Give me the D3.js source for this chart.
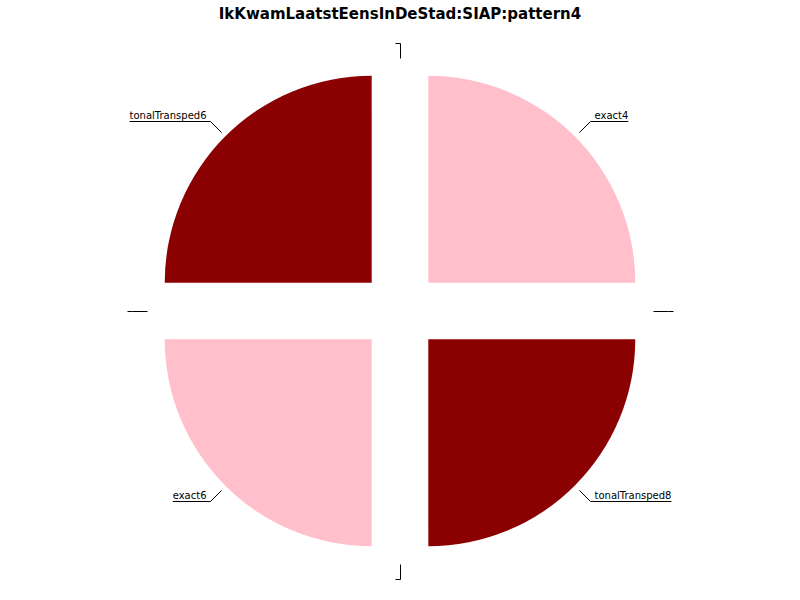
<!DOCTYPE html>
<html>
<head>
<meta charset="utf-8">
<script src="https://cdn.jsdelivr.net/npm/d3@7"></script>
<style>
  body { margin: 0; background: #fff; }
</style>
</head>
<body>
<script>
// slices in clockwise order from 12 o'clock; the empty ones are zero-size wedges
var labels = ["", "exact4", "", "tonalTransped8", "", "exact6", "", "tonalTransped6"];
var values = [0, 4, 0, 4, 0, 4, 0, 4];
var colors = ["#ffc0cb", "#ffc0cb", "#8b0000", "#8b0000", "#ffc0cb", "#ffc0cb", "#8b0000", "#8b0000"];
var title = "IkKwamLaatstEensInDeStad:SIAP:pattern4";

var width = 800, height = 600;
var cx = 400, cy = 311, radius = 207, explode = 40;

var svg = d3.select("body")
    .append("svg")
    .attr("width", width)
    .attr("height", height);

svg.append("text")
    .attr("x", width / 2)
    .attr("y", 19)
    .attr("text-anchor", "middle")
    .style("font-family", "DejaVu Sans, sans-serif")
    .style("font-size", "15px")
    .style("font-weight", "bold")
    .text(title);

var data = labels.map(function (l, i) { return {label: l, value: values[i], color: colors[i]}; });

var pie = d3.pie()
    .sort(null)
    .value(function (d) { return d.value; });

var arc = d3.arc()
    .innerRadius(0)
    .outerRadius(radius);

var arcs = pie(data);

function mid(d) { return (d.startAngle + d.endAngle) / 2; }
function polar(a, r) { return [Math.sin(a) * r, -Math.cos(a) * r]; }

var g = svg.append("g")
    .attr("transform", "translate(" + cx + "," + cy + ")");

g.selectAll("path.slice")
    .data(arcs.filter(function (d) { return d.data.value > 0; }))
    .enter()
        .append("path")
        .attr("class", "slice")
        .attr("d", arc)
        .attr("fill", function (d) { return d.data.color; })
        .attr("transform", function (d) {
            var p = polar(mid(d), explode);
            return "translate(" + p[0] + "," + p[1] + ")";
        });

// leader lines with labels (half pixel shift keeps the 1px lines sharp)
var r1 = radius + explode + 6, r2 = r1 + 15;
var lab = g.append("g")
    .attr("transform", "translate(0.5,0.5)")
    .selectAll("g")
    .data(arcs)
    .enter()
        .append("g");

lab.each(function (d) {
    var sel = d3.select(this);
    var a = mid(d);
    var p1 = polar(a, r1), p2 = polar(a, r2);
    p2 = [Math.round(p2[0]), Math.round(p2[1])];
    var right = p2[0] > 0;
    var txt = sel.append("text")
        .attr("y", p2[1] - 3)
        .style("font-family", "DejaVu Sans, sans-serif")
        .style("font-size", "10px")
        .attr("fill", "#000")
        .text(d.data.label);
    var w = d.data.label ? txt.node().getComputedTextLength() + 4 : 5;
    var xEnd = right ? p2[0] + w : p2[0] - w;
    txt.attr("x", right ? p2[0] + 4 : p2[0] - 4)
        .attr("text-anchor", right ? "start" : "end");
    sel.append("path")
        .attr("d", "M" + p1[0] + "," + p1[1] + "L" + p2[0] + "," + p2[1] + "L" + xEnd + "," + p2[1])
        .attr("fill", "none")
        .attr("stroke", "#000")
        .attr("stroke-width", 1);
});
</script>
</body>
</html>
